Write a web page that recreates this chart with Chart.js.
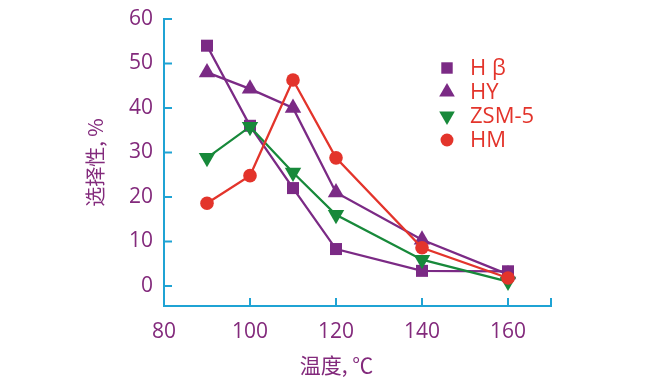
<!DOCTYPE html>
<html><head><meta charset="utf-8">
<script src="https://cdn.jsdelivr.net/npm/chart.js@4/dist/chart.umd.min.js"></script>
<style>html,body{margin:0;padding:0;background:#fff}#wrap{width:662px;height:383px}</style>
</head><body><div id="wrap"><canvas id="c" width="662" height="383"></canvas></div>
<script>
const temperatures = [90, 100, 110, 120, 140, 160];
const hBeta = [54, 36, 22, 8.3, 3.4, 3.3];
const hY = [48, 44.3, 40, 21, 10.4, 2.6];
const zsm5 = [28.8, 35.8, 25.5, 16, 5.9, 1.0];
const hM = [18.6, 24.8, 46.3, 28.8, 8.6, 1.8];
const xTicks = [80, 100, 120, 140, 160];
const yTicks = [0, 10, 20, 30, 40, 50, 60];
const seriesNames = ['H β', 'HY', 'ZSM-5', 'HM'];
const xTitle = '温度, ℃';
const yTitle = '选择性, %';

const PURPLE = '#7b2a85', GREEN = '#17893a', RED = '#e3342b', AXIS = '#1fa3d4', LABEL = '#832a7c';

function pts(arr){ return temperatures.map((t,i)=>({x:t,y:arr[i]})); }

const styles = [
  {color: PURPLE, pointStyle: 'rect', r: 8.5, rot: 0},
  {color: PURPLE, pointStyle: 'triangle', r: 9.5, rot: 0},
  {color: GREEN, pointStyle: 'triangle', r: 9.5, rot: 180},
  {color: RED, pointStyle: 'circle', r: 6.8, rot: 0}
];
const seriesData = [hBeta, hY, zsm5, hM];

const datasets = seriesData.map((d,i)=>({
  label: seriesNames[i], data: pts(d),
  borderColor: styles[i].color, backgroundColor: styles[i].color,
  pointBackgroundColor: styles[i].color, pointBorderColor: styles[i].color,
  pointStyle: styles[i].pointStyle, pointRadius: styles[i].r, pointRotation: styles[i].rot,
  pointBorderWidth: 0, borderWidth: 2.3, tension: 0, order: 4 - i
}));

const innerTicks = {
  id: 'innerTicks',
  afterDraw(chart){
    const ctx = chart.ctx, xs = chart.scales.x, ys = chart.scales.y, a = chart.chartArea;
    ctx.save();
    ctx.strokeStyle = AXIS; ctx.lineWidth = 2;
    ctx.beginPath();
    yTicks.forEach(v=>{ const p = ys.getPixelForValue(v); ctx.moveTo(a.left, p); ctx.lineTo(a.left+8, p); });
    xTicks.concat([xs.max]).forEach(v=>{ if (v===xs.min) return; const p = xs.getPixelForValue(v); ctx.moveTo(p, a.bottom); ctx.lineTo(p, a.bottom-8); });
    ctx.stroke();
    // x title
    ctx.fillStyle = LABEL;
    ctx.font = '21px "Noto Sans CJK SC"';
    ctx.textAlign = 'center'; ctx.textBaseline = 'middle';
    ctx.fillText(xTitle, (a.left + a.right)/2 - 21, a.bottom + 59);
    // legend
    const lx = a.left + 283, ly0 = a.top + 49, step = 24;
    seriesNames.forEach((n,i)=>{
      const y = ly0 + i*step;
      ctx.fillStyle = styles[i].color;
      Chart.helpers.drawPoint(ctx, {pointStyle: styles[i].pointStyle, rotation: styles[i].rot, radius: styles[i].r*0.95, borderWidth: 0}, lx, y);
      ctx.fillStyle = RED;
      ctx.font = '22px "Open Sans", sans-serif';
      ctx.textBaseline = 'middle'; ctx.textAlign = 'left';
      ctx.fillText(n, lx + 23, y + 1);
    });
    ctx.restore();
  }
};

new Chart(document.getElementById('c'), {
  type: 'line',
  data: { datasets },
  options: {
    responsive: false, animation: false,
    layout: { padding: { left: 83, right: 111, top: 19, bottom: 0 } },
    plugins: { legend: { display: false }, tooltip: { enabled: false } },
    scales: {
      x: {
        type: 'linear', min: 80, max: 170,
        afterBuildTicks(s){ s.ticks = xTicks.map(v=>({value:v})); },
        afterFit(s){ s.height = 77; },
        grid: { display: false },
        border: { display: true, color: AXIS, width: 2 },
        ticks: { color: LABEL, font: { size: 21, family: '"Open Sans", sans-serif' }, padding: 5, maxRotation: 0 },
        title: { display: false }
      },
      y: {
        type: 'linear', min: -4.5, max: 60,
        afterBuildTicks(s){ s.ticks = yTicks.map(v=>({value:v})); },
        afterFit(s){ s.width = 81; },
        grid: { display: false },
        border: { display: true, color: AXIS, width: 2 },
        ticks: { color: LABEL, font: { size: 21, family: '"Open Sans", sans-serif' }, padding: 3 },
        title: { display: true, text: yTitle, color: LABEL, font: { size: 20, family: '"Noto Sans CJK SC"' }, padding: { top: 0, bottom: 0 } }
      }
    }
  },
  plugins: [innerTicks]
});
</script></body></html>
